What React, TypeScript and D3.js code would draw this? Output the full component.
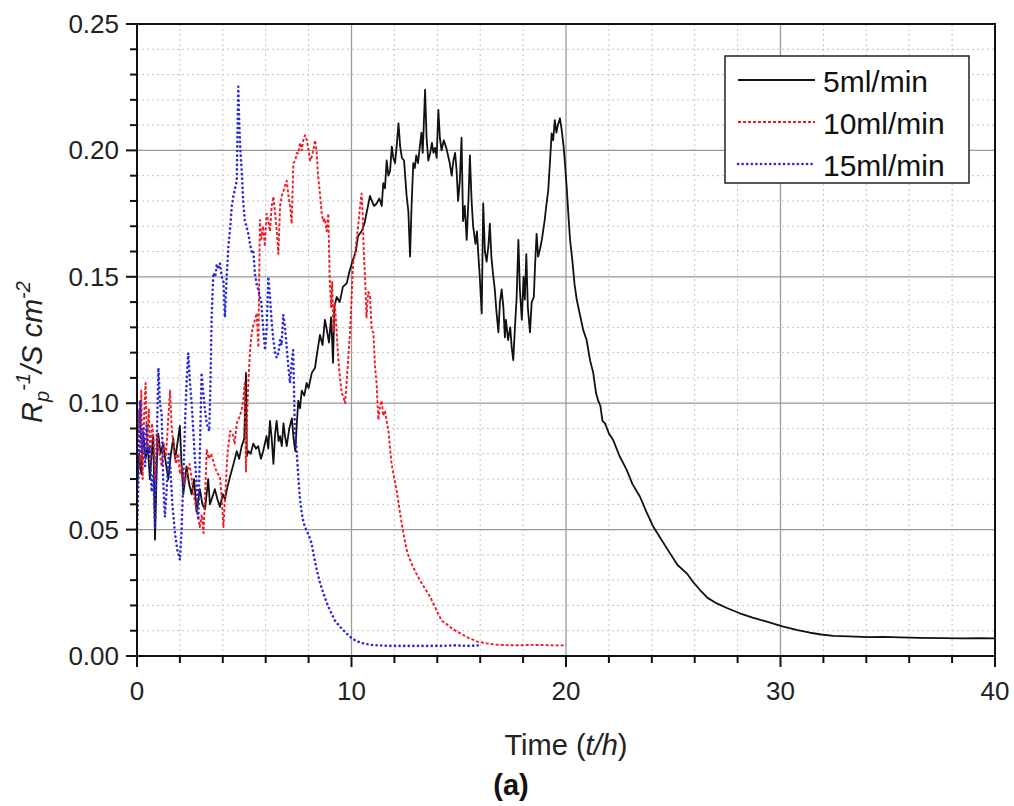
import React from "react";
import * as d3 from "d3";

// 5 ml/min flow rate: [time (h), Rp^-1 (S cm^-2)]
const flow5: [number, number][] = [
  [0.0, 0.066], [0.1, 0.08], [0.2, 0.072], [0.29, 0.088], [0.4, 0.078], [0.5, 0.083], [0.6, 0.07], [0.7, 0.082],
  [0.76, 0.087], [0.84, 0.046], [0.92, 0.075], [0.99, 0.088], [1.1, 0.08], [1.22, 0.084], [1.35, 0.076], [1.46, 0.07],
  [1.58, 0.08], [1.69, 0.086], [1.78, 0.078], [1.85, 0.082], [2.0, 0.091], [2.08, 0.075], [2.16, 0.064], [2.31, 0.075],
  [2.43, 0.068], [2.55, 0.064], [2.66, 0.07], [2.78, 0.057], [2.93, 0.066], [3.05, 0.06], [3.17, 0.058], [3.32, 0.07],
  [3.4, 0.06], [3.48, 0.062], [3.63, 0.066], [3.75, 0.062], [3.87, 0.059], [4.0, 0.064], [4.1, 0.062], [4.22, 0.067],
  [4.34, 0.071], [4.5, 0.076], [4.65, 0.081], [4.76, 0.078], [4.88, 0.083], [5.0, 0.086], [5.08, 0.112], [5.12, 0.079],
  [5.19, 0.081], [5.3, 0.08], [5.42, 0.084], [5.55, 0.082], [5.65, 0.083], [5.78, 0.078], [5.88, 0.081], [6.04, 0.087],
  [6.12, 0.082], [6.2, 0.093], [6.28, 0.086], [6.36, 0.076], [6.44, 0.088], [6.51, 0.093], [6.6, 0.085], [6.67, 0.087],
  [6.75, 0.083], [6.83, 0.092], [6.9, 0.087], [6.98, 0.083], [7.1, 0.09], [7.22, 0.094], [7.3, 0.086], [7.38, 0.081],
  [7.45, 0.092], [7.52, 0.101], [7.6, 0.098], [7.68, 0.105], [7.8, 0.103], [7.91, 0.108], [8.0, 0.106], [8.15, 0.112],
  [8.3, 0.114], [8.4, 0.12], [8.53, 0.127], [8.65, 0.123], [8.76, 0.133], [8.85, 0.129], [8.95, 0.124], [9.05, 0.134],
  [9.14, 0.116], [9.2, 0.138], [9.31, 0.142], [9.45, 0.14], [9.6, 0.146], [9.78, 0.1475], [9.9, 0.152], [10.08, 0.157],
  [10.2, 0.16], [10.3, 0.166], [10.47, 0.168], [10.6, 0.171], [10.72, 0.176], [10.86, 0.182], [10.95, 0.18], [11.05, 0.178],
  [11.17, 0.179], [11.3, 0.181], [11.41, 0.178], [11.48, 0.187], [11.56, 0.185], [11.64, 0.196], [11.72, 0.19], [11.8, 0.192],
  [11.88, 0.2015], [11.95, 0.197], [12.03, 0.195], [12.12, 0.203], [12.19, 0.2107], [12.27, 0.2015], [12.35, 0.197], [12.45, 0.196],
  [12.57, 0.182], [12.65, 0.176], [12.73, 0.158], [12.8, 0.178], [12.88, 0.195], [12.95, 0.193], [13.02, 0.198], [13.1, 0.195],
  [13.18, 0.201], [13.26, 0.207], [13.32, 0.199], [13.43, 0.224], [13.5, 0.205], [13.58, 0.196], [13.67, 0.199], [13.75, 0.203],
  [13.82, 0.199], [13.9, 0.201], [13.97, 0.197], [14.05, 0.216], [14.12, 0.205], [14.2, 0.2], [14.3, 0.204], [14.42, 0.201],
  [14.5, 0.198], [14.58, 0.195], [14.67, 0.19], [14.75, 0.196], [14.83, 0.199], [14.9, 0.192], [14.97, 0.18], [15.05, 0.188],
  [15.13, 0.205], [15.2, 0.172], [15.28, 0.178], [15.37, 0.1646], [15.45, 0.18], [15.52, 0.198], [15.6, 0.18], [15.67, 0.17],
  [15.78, 0.163], [15.85, 0.168], [15.91, 0.159], [15.98, 0.15], [16.07, 0.1355], [16.14, 0.179], [16.22, 0.16], [16.3, 0.156],
  [16.38, 0.162], [16.45, 0.171], [16.52, 0.158], [16.6, 0.151], [16.68, 0.145], [16.75, 0.137], [16.85, 0.128], [16.92, 0.14],
  [17.0, 0.145], [17.08, 0.138], [17.15, 0.126], [17.2, 0.133], [17.3, 0.125], [17.4, 0.13], [17.47, 0.122], [17.54, 0.117],
  [17.62, 0.13], [17.7, 0.142], [17.78, 0.1646], [17.85, 0.145], [17.94, 0.133], [18.02, 0.15], [18.08, 0.141], [18.15, 0.159],
  [18.22, 0.138], [18.32, 0.128], [18.4, 0.14], [18.5, 0.142], [18.56, 0.155], [18.63, 0.167], [18.7, 0.158], [18.79, 0.161],
  [18.88, 0.165], [19.0, 0.172], [19.08, 0.178], [19.17, 0.184], [19.25, 0.195], [19.33, 0.2067], [19.4, 0.204], [19.48, 0.212],
  [19.55, 0.207], [19.62, 0.21], [19.72, 0.2127], [19.8, 0.208], [19.89, 0.2015], [19.95, 0.195], [20.03, 0.1857], [20.1, 0.176],
  [20.19, 0.1646], [20.3, 0.156], [20.4, 0.147], [20.5, 0.141], [20.65, 0.135], [20.8, 0.129], [20.96, 0.125], [21.12, 0.117],
  [21.27, 0.112], [21.4, 0.104], [21.5, 0.101], [21.6, 0.099], [21.7, 0.093], [21.82, 0.092], [22.0, 0.088], [22.2, 0.0854],
  [22.5, 0.079], [22.83, 0.0736], [23.1, 0.068], [23.45, 0.063], [23.75, 0.057], [24.07, 0.0511], [24.45, 0.046], [24.85, 0.0406],
  [25.2, 0.036], [25.63, 0.0327], [25.95, 0.029], [26.25, 0.0261], [26.6, 0.023], [27.03, 0.0208], [27.5, 0.019], [28.1, 0.0169],
  [28.7, 0.0152], [29.36, 0.0136], [30.13, 0.0116], [30.8, 0.0102], [31.38, 0.0092], [31.9, 0.0085], [32.46, 0.008], [33.2, 0.0078],
  [34.1, 0.0075], [34.8, 0.0076], [35.57, 0.0074], [36.5, 0.0072], [37.5, 0.0071], [38.5, 0.007], [39.3, 0.0071], [40.0, 0.007],
];

// 10 ml/min flow rate
const flow10: [number, number][] = [
  [0.0, 0.065], [0.08, 0.097], [0.15, 0.075], [0.2, 0.105], [0.26, 0.07], [0.33, 0.095], [0.4, 0.108], [0.47, 0.082],
  [0.55, 0.098], [0.62, 0.076], [0.7, 0.092], [0.78, 0.085], [0.85, 0.07], [0.95, 0.088], [1.05, 0.08], [1.15, 0.075],
  [1.25, 0.084], [1.35, 0.079], [1.45, 0.093], [1.54, 0.105], [1.62, 0.09], [1.72, 0.082], [1.82, 0.076], [1.92, 0.08],
  [2.0, 0.072], [2.1, 0.075], [2.2, 0.068], [2.32, 0.072], [2.45, 0.076], [2.55, 0.07], [2.66, 0.063], [2.77, 0.058],
  [2.85, 0.055], [2.93, 0.051], [3.02, 0.056], [3.1, 0.0486], [3.18, 0.065], [3.25, 0.0815], [3.35, 0.078], [3.45, 0.08],
  [3.56, 0.077], [3.66, 0.074], [3.77, 0.072], [3.87, 0.071], [3.95, 0.062], [4.03, 0.051], [4.12, 0.065], [4.22, 0.08],
  [4.34, 0.089], [4.45, 0.088], [4.55, 0.084], [4.65, 0.092], [4.75, 0.094], [4.87, 0.097], [4.95, 0.101], [5.02, 0.108],
  [5.08, 0.073], [5.14, 0.097], [5.2, 0.11], [5.27, 0.121], [5.35, 0.128], [5.43, 0.131], [5.5, 0.133], [5.58, 0.1356],
  [5.66, 0.122], [5.73, 0.1725], [5.8, 0.165], [5.88, 0.17], [5.96, 0.162], [6.04, 0.175], [6.12, 0.172], [6.2, 0.168],
  [6.28, 0.178], [6.36, 0.1817], [6.44, 0.175], [6.52, 0.168], [6.59, 0.159], [6.67, 0.178], [6.75, 0.182], [6.83, 0.184],
  [6.9, 0.186], [6.98, 0.188], [7.06, 0.182], [7.14, 0.178], [7.21, 0.171], [7.29, 0.195], [7.38, 0.196], [7.45, 0.199],
  [7.52, 0.1988], [7.6, 0.203], [7.68, 0.2], [7.75, 0.204], [7.83, 0.206], [7.92, 0.204], [8.0, 0.2], [8.07, 0.196],
  [8.13, 0.197], [8.22, 0.2], [8.3, 0.204], [8.37, 0.2], [8.44, 0.19], [8.53, 0.183], [8.61, 0.175], [8.68, 0.172],
  [8.76, 0.173], [8.84, 0.168], [8.92, 0.175], [8.98, 0.15], [9.05, 0.138], [9.1, 0.148], [9.16, 0.128], [9.22, 0.14],
  [9.31, 0.128], [9.38, 0.118], [9.46, 0.1105], [9.54, 0.104], [9.62, 0.1026], [9.7, 0.1], [9.77, 0.108], [9.85, 0.118],
  [9.93, 0.128], [10.0, 0.141], [10.08, 0.1554], [10.16, 0.159], [10.24, 0.165], [10.31, 0.17], [10.4, 0.178], [10.47, 0.183],
  [10.52, 0.175], [10.57, 0.16], [10.63, 0.15], [10.7, 0.134], [10.78, 0.144], [10.86, 0.143], [10.94, 0.129], [11.02, 0.128],
  [11.1, 0.114], [11.17, 0.108], [11.25, 0.0934], [11.33, 0.099], [11.41, 0.101], [11.48, 0.095], [11.56, 0.097], [11.64, 0.093],
  [11.72, 0.089], [11.8, 0.082], [11.87, 0.076], [12.0, 0.07], [12.1, 0.0657], [12.22, 0.059], [12.34, 0.0526], [12.45, 0.047],
  [12.57, 0.042], [12.68, 0.039], [12.8, 0.0366], [13.0, 0.033], [13.19, 0.03], [13.4, 0.027], [13.66, 0.0235], [13.97, 0.018],
  [14.2, 0.014], [14.45, 0.0125], [14.75, 0.0105], [15.06, 0.009], [15.45, 0.0072], [15.87, 0.0057], [16.3, 0.005], [16.7, 0.0045],
  [17.2, 0.0043], [17.8, 0.0042], [18.4, 0.0044], [19.0, 0.0043], [19.5, 0.0042], [20.0, 0.0042],
];

// 15 ml/min flow rate
const flow15: [number, number][] = [
  [0.0, 0.0486], [0.07, 0.07], [0.14, 0.101], [0.22, 0.08], [0.3, 0.09], [0.38, 0.075], [0.45, 0.092], [0.52, 0.08],
  [0.6, 0.083], [0.68, 0.065], [0.76, 0.072], [0.84, 0.051], [0.92, 0.085], [1.0, 0.114], [1.07, 0.1], [1.15, 0.0955],
  [1.22, 0.07], [1.3, 0.055], [1.4, 0.068], [1.48, 0.08], [1.55, 0.075], [1.65, 0.06], [1.77, 0.0486], [1.88, 0.042],
  [2.0, 0.038], [2.08, 0.05], [2.15, 0.068], [2.25, 0.095], [2.32, 0.11], [2.39, 0.1198], [2.47, 0.108], [2.55, 0.1],
  [2.62, 0.09], [2.7, 0.078], [2.78, 0.068], [2.86, 0.0538], [2.93, 0.08], [3.01, 0.112], [3.08, 0.105], [3.16, 0.098],
  [3.25, 0.092], [3.37, 0.089], [3.43, 0.11], [3.48, 0.134], [3.56, 0.1515], [3.65, 0.15], [3.72, 0.155], [3.79, 0.153],
  [3.87, 0.1554], [3.95, 0.15], [4.03, 0.148], [4.1, 0.134], [4.18, 0.15], [4.26, 0.162], [4.35, 0.17], [4.42, 0.178],
  [4.49, 0.1817], [4.57, 0.185], [4.65, 0.188], [4.72, 0.2252], [4.77, 0.21], [4.82, 0.2], [4.88, 0.192], [4.95, 0.18],
  [5.03, 0.172], [5.1, 0.17], [5.19, 0.167], [5.27, 0.163], [5.34, 0.16], [5.42, 0.1606], [5.5, 0.151], [5.58, 0.147],
  [5.66, 0.1448], [5.73, 0.142], [5.8, 0.1395], [5.88, 0.13], [5.97, 0.121], [6.05, 0.13], [6.12, 0.15], [6.2, 0.142],
  [6.28, 0.132], [6.36, 0.125], [6.44, 0.12], [6.51, 0.118], [6.6, 0.12], [6.67, 0.125], [6.74, 0.123], [6.82, 0.135],
  [6.9, 0.13], [6.98, 0.122], [7.05, 0.115], [7.13, 0.108], [7.2, 0.115], [7.28, 0.121], [7.36, 0.0894], [7.44, 0.0815],
  [7.52, 0.071], [7.6, 0.062], [7.68, 0.0565], [7.76, 0.053], [7.83, 0.051], [8.0, 0.048], [8.14, 0.0446], [8.26, 0.039],
  [8.38, 0.034], [8.53, 0.029], [8.69, 0.0248], [8.85, 0.021], [9.0, 0.018], [9.23, 0.014], [9.46, 0.0116], [9.7, 0.0095],
  [9.93, 0.0076], [10.2, 0.006], [10.55, 0.005], [10.9, 0.0044], [11.3, 0.0042], [11.8, 0.004], [12.4, 0.004], [13.0, 0.004],
  [13.6, 0.004], [14.2, 0.004], [14.8, 0.0042], [15.4, 0.004], [16.0, 0.0042],
];

const seriesNames = ["5ml/min", "10ml/min", "15ml/min"];
const xMajorTicks = [0, 10, 20, 30, 40];
const yMajorTicks = [0, 0.05, 0.1, 0.15, 0.2, 0.25];

const W = 1014;
const H = 806;
const plot = { left: 137, right: 995, top: 24, bottom: 656 };

const x = d3.scaleLinear().domain([0, 40]).range([plot.left, plot.right]);
const y = d3.scaleLinear().domain([0, 0.25]).range([plot.bottom, plot.top]);

const line = d3
  .line<[number, number]>()
  .x((d) => x(d[0]))
  .y((d) => y(d[1]));

const styles = [
  { color: "#111111", width: 1.8, dash: undefined as string | undefined, cap: "butt" },
  { color: "#ee1c24", width: 1.9, dash: "3,2", cap: "butt" },
  { color: "#2a2ad8", width: 2.6, dash: "0.1,4.5", cap: "round" },
];

const FONT = "Arial, 'Liberation Sans', Helvetica, sans-serif";

export default function App() {
  const xMinor = d3.range(0, 40.001, 2).filter((v) => Math.round(v) % 10 !== 0);
  const yMinor = d3.range(0, 0.2501, 0.01).filter((v) => Math.round(v * 100) % 5 !== 0);
  const data = [flow5, flow10, flow15];

  const legend = { x: 725, y: 56, w: 244, h: 127 };
  const rowBase = [92, 134, 176];

  return (
    <svg
      width={W}
      height={H}
      style={{ position: "absolute", left: 0, top: 0, background: "#fff" }}
      fontFamily={FONT}
    >
      <rect x={0} y={0} width={W} height={H} fill="#fff" />
      {/* minor grid */}
      <g stroke="#c4c4c4" strokeWidth={1} strokeDasharray="2,3">
        {xMinor.map((v) => (
          <line key={"gx" + v} x1={x(v)} x2={x(v)} y1={plot.top} y2={plot.bottom} />
        ))}
        {yMinor.map((v) => (
          <line key={"gy" + v} x1={plot.left} x2={plot.right} y1={y(v)} y2={y(v)} />
        ))}
      </g>
      {/* major grid */}
      <g stroke="#9a9a9a" strokeWidth={1.3}>
        {xMajorTicks.slice(1, -1).map((v) => (
          <line key={"Gx" + v} x1={x(v)} x2={x(v)} y1={plot.top} y2={plot.bottom} />
        ))}
        {yMajorTicks.slice(1, -1).map((v) => (
          <line key={"Gy" + v} x1={plot.left} x2={plot.right} y1={y(v)} y2={y(v)} />
        ))}
      </g>

      {/* series */}
      <g fill="none" strokeLinejoin="round">
        {data.map((d, i) => (
          <path
            key={i}
            d={line(d) || ""}
            stroke={styles[i].color}
            strokeWidth={styles[i].width}
            strokeDasharray={styles[i].dash}
            strokeLinecap={styles[i].cap as any}
          />
        ))}
      </g>

      {/* frame */}
      <rect
        x={plot.left}
        y={plot.top}
        width={plot.right - plot.left}
        height={plot.bottom - plot.top}
        fill="none"
        stroke="#111"
        strokeWidth={2}
      />

      {/* ticks */}
      <g stroke="#111" strokeWidth={2}>
        {xMajorTicks.map((v) => (
          <line key={"tx" + v} x1={x(v)} x2={x(v)} y1={plot.bottom} y2={plot.bottom + 11} />
        ))}
        {xMinor.map((v) => (
          <line key={"mx" + v} x1={x(v)} x2={x(v)} y1={plot.bottom} y2={plot.bottom + 7} />
        ))}
        {yMajorTicks.map((v) => (
          <line key={"ty" + v} x1={plot.left - 11} x2={plot.left} y1={y(v)} y2={y(v)} />
        ))}
        {yMinor.map((v) => (
          <line key={"my" + v} x1={plot.left - 7} x2={plot.left} y1={y(v)} y2={y(v)} />
        ))}
      </g>

      {/* tick labels */}
      <g fontSize={26} fill="#222">
        {xMajorTicks.map((v) => (
          <text key={"lx" + v} x={x(v)} y={plot.bottom + 44} textAnchor="middle">
            {d3.format("d")(v)}
          </text>
        ))}
        {yMajorTicks.map((v) => (
          <text key={"ly" + v} x={plot.left - 18} y={y(v) + 9} textAnchor="end">
            {d3.format(".2f")(v)}
          </text>
        ))}
      </g>

      {/* axis titles */}
      <text x={566} y={755} fontSize={29} textAnchor="middle" fill="#222">
        Time (<tspan fontStyle="italic">t/h</tspan>)
      </text>
      <text x={511} y={795} fontSize={29} fontWeight="bold" textAnchor="middle" fill="#111">
        (a)
      </text>
      <text
        transform={`translate(42,${352}) rotate(-90)`}
        fontSize={29}
        fontStyle="italic"
        textAnchor="middle"
        fill="#222"
      >
        R
        <tspan fontSize={20} dy={7}>p</tspan>
        <tspan fontSize={20} dy={-19}>-1</tspan>
        <tspan dy={12}>/S cm</tspan>
        <tspan fontSize={20} dy={-12}>-2</tspan>
      </text>

      {/* legend */}
      <rect x={legend.x} y={legend.y} width={legend.w} height={legend.h} fill="#fff" stroke="#222" strokeWidth={1.5} />
      {seriesNames.map((name, i) => (
        <g key={name}>
          <line
            x1={738}
            x2={815}
            y1={rowBase[i] - 12}
            y2={rowBase[i] - 12}
            stroke={styles[i].color}
            strokeWidth={styles[i].width}
            strokeDasharray={styles[i].dash}
            strokeLinecap={styles[i].cap as any}
          />
          <text x={823} y={rowBase[i]} fontSize={30} fill="#111">
            {name}
          </text>
        </g>
      ))}
    </svg>
  );
}
